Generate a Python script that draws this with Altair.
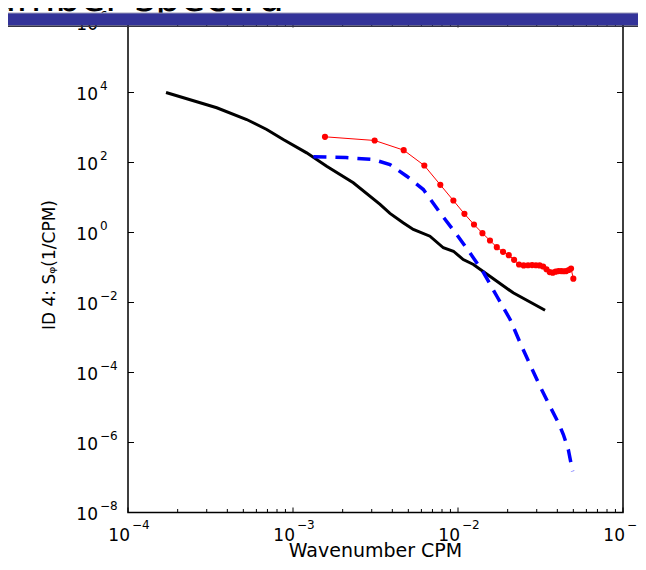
import altair as alt
import pandas as pd

# ---------------- data ----------------
black_k = [1.70e-4, 3.45e-4, 5.24e-4, 6.93e-4, 8.73e-4, 1.21e-3, 1.60e-3, 2.32e-3,
           3.37e-3, 3.87e-3, 4.65e-3, 5.36e-3, 6.76e-3, 8.15e-3, 9.38e-3, 1.076e-2,
           1.24e-2, 1.56e-2, 2.16e-2, 3.37e-2]
black_s = [1.0e4, 3.66e3, 1.69e3, 8.77e2, 4.54e2, 1.89e2, 7.85e1, 2.63e1,
           6.4, 3.5, 1.89, 1.22, 0.783, 0.366, 0.292, 0.169,
           0.122, 5.64e-2, 1.89e-2, 6.0e-3]

blue_k = [1.33e-3, 2.09e-3, 3.05e-3, 3.87e-3, 4.89e-3, 6.17e-3, 7.78e-3, 9.82e-3,
          1.18e-2, 1.43e-2, 1.72e-2, 2.07e-2, 2.38e-2, 2.73e-2, 3.14e-2, 3.52e-2,
          4.06e-2, 4.35e-2, 4.66e-2, 4.95e-2]
blue_s = [145.5, 138, 122, 87.7, 40.6, 16.9, 3.66, 0.877,
          0.263, 7.06e-2, 1.51e-2, 3.27e-3, 7.06e-4, 1.69e-4, 4.06e-5, 1.36e-5,
          3.66e-6, 1.69e-6, 6.3e-7, 1.51e-7]

red_k = [1.5625e-3, 3.125e-3, 4.6875e-3, 6.25e-3, 7.8125e-3, 9.375e-3, 1.09375e-2, 1.25e-2,
         1.40625e-2, 1.5625e-2, 1.71875e-2, 1.875e-2, 2.03125e-2, 2.1875e-2, 2.34375e-2, 2.5e-2,
         2.65625e-2, 2.8125e-2, 2.96875e-2, 3.125e-2, 3.28125e-2, 3.4375e-2, 3.59375e-2, 3.75e-2,
         3.90625e-2, 4.0625e-2, 4.21875e-2, 4.375e-2, 4.53125e-2, 4.6875e-2, 4.84375e-2, 5.0e-2]
red_s = [542, 426, 225, 82, 23.0, 8.2, 3.41, 1.69,
         0.957, 0.59, 0.381, 0.281, 0.225, 0.166, 0.122, 0.115,
         0.116, 0.117, 0.116, 0.115, 0.107, 0.089, 0.074, 0.071,
         0.076, 0.079, 0.079, 0.078, 0.079, 0.085, 0.093, 0.048]

x_major = [1e-4, 1e-3, 1e-2, 1e-1]
x_exp = ["−4", "−3", "−2", "−1"]
x_minor = [2e-4, 3e-4, 4e-4, 5e-4, 6e-4, 7e-4, 8e-4, 9e-4,
           2e-3, 3e-3, 4e-3, 5e-3, 6e-3, 7e-3, 8e-3, 9e-3,
           2e-2, 3e-2, 4e-2, 5e-2, 6e-2, 7e-2, 8e-2, 9e-2]
y_major = [1e-8, 1e-6, 1e-4, 1e-2, 1e0, 1e2, 1e4, 1e6]
y_exp = ["−8", "−6", "−4", "−2", "0", "2", "4", "6"]

title_text = "Wavenumber spectra"
x_title = "Wavenumber CPM"
y_title = "ID 4: Sᵩ(1/CPM)"

# ---------------- layout ----------------
W, H = 495, 490
PR = 15
FONT = "DejaVu Sans"
xs = alt.Scale(type="log", domain=[1e-4, 1e-1], nice=False)
ys = alt.Scale(type="log", domain=[1e-8, 1e6], nice=False)

black = pd.DataFrame({"k": black_k, "s": black_s})
blue = pd.DataFrame({"k": blue_k, "s": blue_s})
red = pd.DataFrame({"k": red_k, "s": red_s})
xmaj = pd.DataFrame({"v": x_major, "e": x_exp})
xmin = pd.DataFrame({"v": x_minor})
ymaj = pd.DataFrame({"v": y_major, "e": y_exp})
one = pd.DataFrame({"a": [0]})

X = alt.X("k:Q", scale=xs, axis=None)
Y = alt.Y("s:Q", scale=ys, axis=None)
XV = alt.X("v:Q", scale=xs, axis=None)
YV = alt.Y("v:Q", scale=ys, axis=None)

l_black = alt.Chart(black).mark_line(color="black", strokeWidth=3).encode(x=X, y=Y)
l_blue = alt.Chart(blue).mark_line(color="#0000ff", strokeWidth=3.5, strokeDash=[13, 9]).encode(x=X, y=Y)
l_red = alt.Chart(red).mark_line(color="#ff0000", strokeWidth=1).encode(x=X, y=Y)
p_red = alt.Chart(red).mark_circle(color="#ff0000", size=38, opacity=1).encode(x=X, y=Y)

# ticks (inside, MATLAB style)
t_xb = alt.Chart(xmaj).mark_rule(color="black", strokeWidth=1).encode(x=XV, y=alt.value(H), y2=alt.value(H - 5))
t_xt = alt.Chart(xmaj).mark_rule(color="black", strokeWidth=1).encode(x=XV, y=alt.value(0), y2=alt.value(5))
t_xbm = alt.Chart(xmin).mark_rule(color="black", strokeWidth=1).encode(x=XV, y=alt.value(H), y2=alt.value(H - 3.5))
t_xtm = alt.Chart(xmin).mark_rule(color="black", strokeWidth=1).encode(x=XV, y=alt.value(0), y2=alt.value(3.5))
t_yl = alt.Chart(ymaj).mark_rule(color="black", strokeWidth=1).encode(y=YV, x=alt.value(0), x2=alt.value(6))
t_yr = alt.Chart(ymaj).mark_rule(color="black", strokeWidth=1).encode(y=YV, x=alt.value(W), x2=alt.value(W - 6))

# tick labels
xl_base = alt.Chart(xmaj).mark_text(text="10", font=FONT, fontSize=17, align="right", baseline="alphabetic", dx=2, color="black").encode(x=XV, y=alt.value(518))
xl_exp = alt.Chart(xmaj).mark_text(font=FONT, fontSize=12, align="left", baseline="alphabetic", dx=4, color="black").encode(x=XV, y=alt.value(506), text="e:N")
yl_base = alt.Chart(ymaj).mark_text(text="10", font=FONT, fontSize=17, align="right", baseline="middle", dy=2.5, color="black").encode(y=YV, x=alt.value(-30))
yl_exp = alt.Chart(ymaj).mark_text(font=FONT, fontSize=12, align="left", baseline="middle", dy=-6.5, color="black").encode(y=YV, x=alt.value(-28), text="e:N")

# axis titles
xt = alt.Chart(one).mark_text(text=x_title, font=FONT, fontSize=19, align="center", baseline="alphabetic", color="black").encode(x=alt.value(W / 2), y=alt.value(534))
yt = alt.Chart(one).mark_text(text=y_title, font=FONT, fontSize=17, align="center", baseline="alphabetic", angle=270, color="black").encode(x=alt.value(-73), y=alt.value(242.5))

# slide header: title (mostly cut off) and blue bar
head = alt.Chart(one).mark_text(text=title_text, font=FONT, fontSize=40, align="right", baseline="alphabetic", color="black").encode(x=alt.value(156), y=alt.value(-11.5))
bar = alt.Chart(one).mark_rect(color="#333399").encode(x=alt.value(-120), x2=alt.value(W + PR), y=alt.value(-9.5), y2=alt.value(3))
bar_top = alt.Chart(one).mark_rule(color="#9a9ab8", strokeWidth=1).encode(x=alt.value(-120), x2=alt.value(W + PR), y=alt.value(-9.5))
bar_bot = alt.Chart(one).mark_rule(color="#333344", strokeWidth=1.6).encode(x=alt.value(-120), x2=alt.value(W + PR), y=alt.value(3.8))

chart = alt.layer(
    t_xb, t_xt, t_xbm, t_xtm, t_yl, t_yr,
    l_black, l_blue, l_red, p_red,
    xl_base, xl_exp, yl_base, yl_exp, xt, yt,
    head, bar, bar_top, bar_bot,
).properties(
    width=W, height=H,
    padding={"left": 120, "top": 14.5, "right": PR, "bottom": 48},
    autosize=alt.AutoSizeParams(type="none"),
    background="white",
).configure_view(stroke="black", strokeWidth=1.5)

chart.save("out.html", embed_options={"renderer": "svg", "actions": False})
